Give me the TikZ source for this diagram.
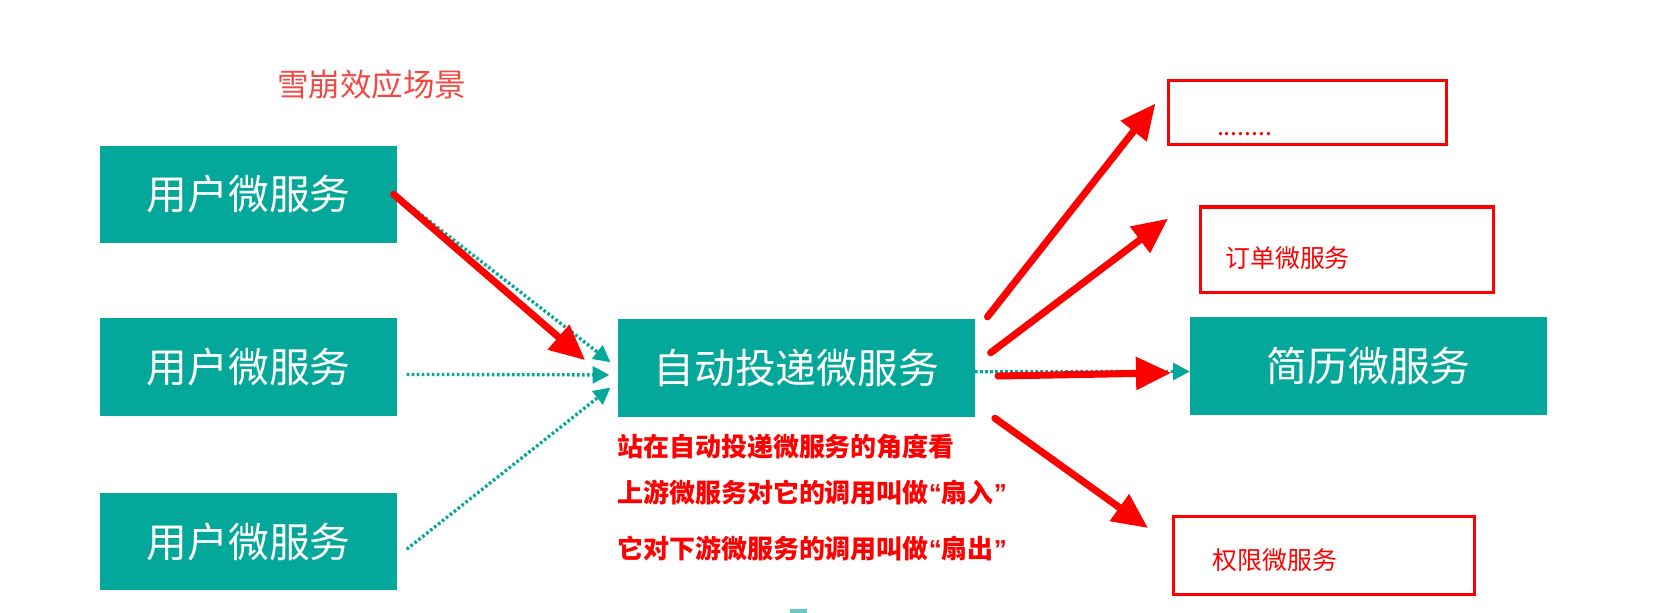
\documentclass[tikz,border=0pt]{standalone}
\usepackage{fontspec}
\setmainfont{Noto Sans CJK SC}
\newfontfamily\quotefont{Liberation Sans}
\usetikzlibrary{arrows.meta,positioning}
\definecolor{svcgreen}{HTML}{03A89A}
\definecolor{titlered}{HTML}{F04A44}
\newcommand{\openq}{{\quotefont\bfseries “}}
\newcommand{\closeq}{{\quotefont\bfseries ”}}
\tikzset{%
	service/.style  = {fill=svcgreen, text=white, inner sep=0pt,
		font=\fontsize{22}{26}\selectfont},
	target/.style   = {draw=red, line width=1.7pt, inner sep=0pt}, % Outlined box
	note/.style     = {text=red, anchor=west, inner sep=0pt,
		font=\fontsize{14}{17}\selectfont\bfseries},
	boxlabel/.style = {text=red, anchor=west, inner sep=0pt,
		font=\fontsize{13.4}{16}\selectfont},
	fan/.style      = {red, line width=3.8pt, line cap=round,
		-{Triangle[length=19pt,width=17pt]}}, % Red call arrow
	call/.style     = {svcgreen, line width=1.8pt, dash pattern=on 1.4pt off 1.3pt,
		-{Triangle[length=9pt,width=9pt]}} % Dotted call
}

\begin{document}
\begin{tikzpicture}[x=0.02cm,y=-0.02cm]
			\useasboundingbox (0,0) rectangle (1568,579.5);
			\node[titlered,anchor=west,inner sep=0pt,font=\fontsize{17}{20}\selectfont] (title) at (262,80) {雪崩效应场景} ;
			
			\node[service,minimum width=5.62cm,minimum height=1.84cm] (user1) at (235.5,184) {用户微服务} ;
			\node[service,minimum width=5.62cm,minimum height=1.84cm] (user2) at (235.5,347.5) {用户微服务} ;
			\node[service,minimum width=5.62cm,minimum height=1.84cm] (user3) at (235.5,513) {用户微服务} ;
			\node[service,minimum width=6.76cm,minimum height=1.86cm] (deliver) at (754,348.5) {自动投递微服务} ;
			\node[service,minimum width=6.76cm,minimum height=1.86cm] (resume) at (1296,346.5) {简历微服务} ;
			
			\node[target,minimum width=5.28cm,minimum height=1.22cm] (more) at (1238,106.5) {} ;
			\node[target,minimum width=5.54cm,minimum height=1.62cm] (order) at (1275.5,236.5) {} ;
			\node[target,minimum width=5.70cm,minimum height=1.48cm] (perm) at (1253.5,526) {} ;
			\node[boxlabel,anchor=base west] (moretext) at (1152,128) {........} ;
			\node[boxlabel] (ordertext) at (1160,244) {订单微服务} ;
			\node[boxlabel] (permtext) at (1148,530) {权限微服务} ;
			
			\node[note] (note1) at (584,423) {站在自动投递微服务的角度看} ;
			\node[note] (note2) at (584,466) {上游微服务对它的调用叫做\openq 扇入\closeq} ;
			\node[note] (note3) at (584,519) {它对下游微服务的调用叫做\openq 扇出\closeq} ;
			
			% free ends of the arrows
			\coordinate (in1) at (578,343);
			\coordinate (in2) at (577,355);
			\coordinate (in3) at (578,367);
			\coordinate (hit) at (554,341);
			\coordinate (o1s) at (935,300);
			\coordinate (o1e) at (1094,98);
			\coordinate (o2s) at (938,334);
			\coordinate (o2e) at (1106,207);
			\coordinate (o3s) at (945,356);
			\coordinate (o3e) at (1109,353);
			\coordinate (o4s) at (942,396);
			\coordinate (o4e) at (1087,500);
			
			\draw[call] ([yshift=-1pt]user1.east) -- (in1);
			\draw[call] ([xshift=5pt,yshift=-4pt]user2.east) -- (in2);
			\draw[call] ([xshift=5pt,yshift=-4pt]user3.east) -- (in3);
			\draw[call] ([yshift=-2pt]deliver.east) -- ([yshift=-3pt]resume.west);
			
			\draw[fan] ([xshift=-2pt]user1.east) -- (hit);
			\draw[fan] (o1s) -- (o1e);
			\draw[fan] (o2s) -- (o2e);
			\draw[fan] (o3s) -- (o3e);
			\draw[fan] (o4s) -- (o4e);
			
			\fill[svcgreen!60] (748,577) rectangle (764,580);
		\end{tikzpicture}
\end{document}
